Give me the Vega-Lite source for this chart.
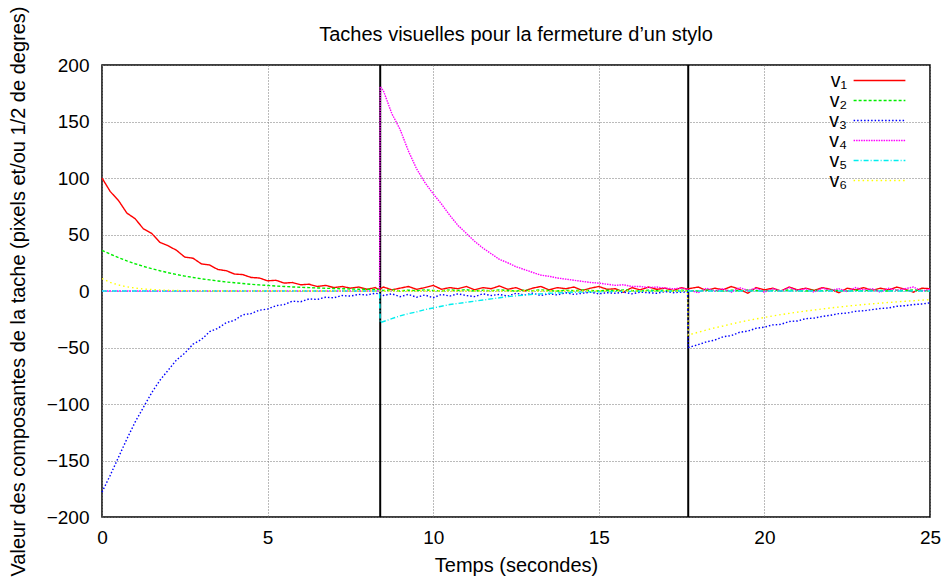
{
  "$schema": "https://vega.github.io/schema/vega-lite/v6.json",
  "width": 828,
  "height": 452,
  "autosize": {"type": "none"},
  "padding": {"left": 102, "top": 65, "right": 14, "bottom": 64},
  "background": "white",
  "config": {
    "view": {"stroke": "black", "strokeWidth": 1.5},
    "font": "Liberation Sans"
  },
  "title": {"text": "Taches visuelles pour la fermeture d’un stylo", "fontSize": 20, "font": "Liberation Sans", "fontWeight": "normal", "color": "black", "offset": 0, "dy": 39, "anchor": "middle"},
  "layer": [
    {
      "data": {"values": [{"t": 8.4}, {"t": 17.7}]},
      "mark": {"type": "rule", "color": "black", "strokeWidth": 2},
      "encoding": {
        "x": {"field": "t", "type": "quantitative", "title": "Temps (secondes)", "scale": {"domain": [0, 25], "nice": false}}
      }
    },
    {
      "data": {"values": [
        {"t":0,"v1":100,"v2":36,"v3":-178,"v4":0,"v5":0,"v6":11},
        {"t":0.25,"v1":88,"v2":32.6,"v3":-163,"v4":0,"v5":0,"v6":7.6},
        {"t":0.5,"v1":80,"v2":29.5,"v3":-147,"v4":0,"v5":0,"v6":5.3},
        {"t":0.75,"v1":69,"v2":26.7,"v3":-131,"v4":0,"v5":0,"v6":3.7},
        {"t":1,"v1":64,"v2":24.1,"v3":-116,"v4":0,"v5":0,"v6":2.6},
        {"t":1.25,"v1":55,"v2":21.8,"v3":-103,"v4":0,"v5":0,"v6":1.8},
        {"t":1.5,"v1":51,"v2":19.8,"v3":-90,"v4":0,"v5":0,"v6":1.3},
        {"t":1.75,"v1":43,"v2":17.9,"v3":-79,"v4":0,"v5":0,"v6":0.9},
        {"t":2,"v1":40,"v2":16.2,"v3":-70,"v4":0,"v5":0,"v6":0.6},
        {"t":2.25,"v1":36,"v2":14.6,"v3":-61,"v4":0,"v5":0,"v6":0.4},
        {"t":2.5,"v1":30,"v2":13.2,"v3":-55,"v4":0,"v5":0,"v6":0.3},
        {"t":2.75,"v1":29,"v2":12,"v3":-47,"v4":0,"v5":0,"v6":0.2},
        {"t":3,"v1":24,"v2":10.8,"v3":-43,"v4":0,"v5":0,"v6":0.1},
        {"t":3.25,"v1":23,"v2":9.8,"v3":-36,"v4":0,"v5":0,"v6":0},
        {"t":3.5,"v1":19,"v2":8.9,"v3":-33,"v4":0,"v5":0,"v6":0},
        {"t":3.75,"v1":18,"v2":8,"v3":-28,"v4":0,"v5":0,"v6":0},
        {"t":4,"v1":15,"v2":7.3,"v3":-26,"v4":0,"v5":0,"v6":0},
        {"t":4.25,"v1":14.5,"v2":6.6,"v3":-21,"v4":0,"v5":0,"v6":0},
        {"t":4.5,"v1":12,"v2":5.9,"v3":-20,"v4":0,"v5":0,"v6":0},
        {"t":4.75,"v1":11.5,"v2":5.4,"v3":-17,"v4":0,"v5":0,"v6":0},
        {"t":5,"v1":9,"v2":4.9,"v3":-16,"v4":0,"v5":0,"v6":0},
        {"t":5.25,"v1":9.5,"v2":4.4,"v3":-13,"v4":0,"v5":0,"v6":0},
        {"t":5.5,"v1":7,"v2":4,"v3":-12,"v4":0,"v5":0,"v6":0},
        {"t":5.75,"v1":7.5,"v2":3.6,"v3":-9,"v4":0,"v5":0,"v6":0},
        {"t":6,"v1":5.5,"v2":3.3,"v3":-9.5,"v4":0,"v5":0,"v6":0},
        {"t":6.25,"v1":6,"v2":3,"v3":-7,"v4":0,"v5":0,"v6":0},
        {"t":6.5,"v1":4,"v2":2.7,"v3":-7.5,"v4":0,"v5":0,"v6":0},
        {"t":6.75,"v1":5,"v2":2.4,"v3":-5.5,"v4":0,"v5":0,"v6":0},
        {"t":7,"v1":3,"v2":2.2,"v3":-6,"v4":0,"v5":0,"v6":0},
        {"t":7.25,"v1":4,"v2":2,"v3":-4,"v4":0,"v5":0,"v6":0},
        {"t":7.5,"v1":2.5,"v2":1.8,"v3":-4.5,"v4":0,"v5":0,"v6":0},
        {"t":7.75,"v1":3.5,"v2":1.6,"v3":-3,"v4":0,"v5":0,"v6":0},
        {"t":8,"v1":1.5,"v2":1.5,"v3":-3.5,"v4":0,"v5":0,"v6":0},
        {"t":8.25,"v1":3,"v2":1.3,"v3":-2,"v4":0,"v5":0,"v6":0},
        {"t":8.38,"v1":1,"v2":1.3,"v3":-2.5,"v4":0,"v5":0,"v6":0},
        {"t":8.4,"v1":2,"v2":1.2,"v3":-3,"v4":181,"v5":-28,"v6":0},
        {"t":8.5,"v1":3.5,"v2":0.5,"v3":-4,"v4":177,"v5":-27,"v6":0},
        {"t":8.75,"v1":1,"v2":1,"v3":-2.5,"v4":157,"v5":-24.5,"v6":0},
        {"t":9,"v1":2.5,"v2":0,"v3":-5,"v4":143,"v5":-22,"v6":0},
        {"t":9.25,"v1":4,"v2":0.8,"v3":-3,"v4":124,"v5":-20,"v6":0},
        {"t":9.5,"v1":1.5,"v2":0.3,"v3":-5.5,"v4":108,"v5":-18.5,"v6":0},
        {"t":9.75,"v1":3,"v2":1,"v3":-3.5,"v4":96,"v5":-16.5,"v6":0},
        {"t":10,"v1":5,"v2":0.5,"v3":-6,"v4":86,"v5":-15,"v6":0},
        {"t":10.25,"v1":1.5,"v2":0,"v3":-3,"v4":77,"v5":-13.5,"v6":0},
        {"t":10.5,"v1":3,"v2":1,"v3":-4.5,"v4":67,"v5":-12,"v6":0},
        {"t":10.75,"v1":2,"v2":0.5,"v3":-2.5,"v4":58,"v5":-11,"v6":0},
        {"t":11,"v1":4,"v2":1.2,"v3":-4,"v4":51,"v5":-10,"v6":0},
        {"t":11.25,"v1":1,"v2":0,"v3":-5,"v4":44,"v5":-9,"v6":0},
        {"t":11.5,"v1":3,"v2":0.7,"v3":-2.5,"v4":38,"v5":-8,"v6":0},
        {"t":11.75,"v1":2,"v2":0.2,"v3":-4,"v4":33,"v5":-7,"v6":0},
        {"t":12,"v1":4.5,"v2":1,"v3":-3,"v4":28,"v5":-6,"v6":0},
        {"t":12.25,"v1":1.5,"v2":0.5,"v3":-4.5,"v4":25,"v5":-5,"v6":0},
        {"t":12.5,"v1":3,"v2":0,"v3":-2,"v4":21.5,"v5":-4.3,"v6":0},
        {"t":12.75,"v1":0,"v2":0.8,"v3":-3.5,"v4":19,"v5":-3.6,"v6":0},
        {"t":13,"v1":2.5,"v2":0.3,"v3":-2,"v4":16.5,"v5":-3,"v6":0},
        {"t":13.25,"v1":4,"v2":1,"v3":-4,"v4":14,"v5":-2.5,"v6":0},
        {"t":13.5,"v1":1,"v2":0.4,"v3":-2.5,"v4":13,"v5":-2,"v6":0},
        {"t":13.75,"v1":3,"v2":0,"v3":-3.5,"v4":11.5,"v5":-1.7,"v6":0},
        {"t":14,"v1":2,"v2":0.8,"v3":-1.5,"v4":10.5,"v5":-1.4,"v6":0},
        {"t":14.25,"v1":3.5,"v2":0.2,"v3":-3,"v4":9.5,"v5":-1.1,"v6":0},
        {"t":14.5,"v1":0.5,"v2":1,"v3":-2,"v4":8.5,"v5":-0.9,"v6":0},
        {"t":14.75,"v1":2.5,"v2":0.5,"v3":-1,"v4":7.5,"v5":-0.7,"v6":0},
        {"t":15,"v1":4,"v2":0,"v3":-2.5,"v4":7,"v5":-0.6,"v6":0},
        {"t":15.25,"v1":1.5,"v2":0.7,"v3":-1.5,"v4":6,"v5":-0.5,"v6":0},
        {"t":15.5,"v1":2,"v2":0.3,"v3":-2,"v4":5,"v5":-0.4,"v6":0},
        {"t":15.75,"v1":-1,"v2":1,"v3":-1,"v4":5.5,"v5":-0.3,"v6":0},
        {"t":16,"v1":3,"v2":0.4,"v3":-2.5,"v4":4,"v5":-0.3,"v6":0},
        {"t":16.25,"v1":1,"v2":0,"v3":-1,"v4":4,"v5":-0.2,"v6":0},
        {"t":16.5,"v1":3.5,"v2":0.8,"v3":-1.5,"v4":3,"v5":-0.2,"v6":0},
        {"t":16.75,"v1":1.5,"v2":0.2,"v3":-2,"v4":3.5,"v5":-0.1,"v6":0},
        {"t":17,"v1":2.5,"v2":0.6,"v3":-0.5,"v4":2.5,"v5":-0.1,"v6":0},
        {"t":17.25,"v1":0.5,"v2":0,"v3":-1.5,"v4":2,"v5":0,"v6":0},
        {"t":17.5,"v1":3,"v2":0.8,"v3":-1,"v4":2.5,"v5":0,"v6":0},
        {"t":17.68,"v1":1.5,"v2":0.3,"v3":-1,"v4":1.5,"v5":0,"v6":0},
        {"t":17.7,"v1":2,"v2":0.5,"v3":-50,"v4":1,"v5":0,"v6":-39},
        {"t":18,"v1":3.5,"v2":0,"v3":-47.5,"v4":-1.5,"v5":0,"v6":-36.5},
        {"t":18.25,"v1":0.5,"v2":1,"v3":-45,"v4":2.5,"v5":0,"v6":-34.5},
        {"t":18.5,"v1":2.5,"v2":0.4,"v3":-43.5,"v4":0,"v5":0,"v6":-32.6},
        {"t":18.75,"v1":1,"v2":0,"v3":-40.5,"v4":2,"v5":0,"v6":-31},
        {"t":19,"v1":4,"v2":0.8,"v3":-39.5,"v4":-1,"v5":0,"v6":-29.2},
        {"t":19.25,"v1":1.5,"v2":0.2,"v3":-36.5,"v4":3,"v5":0,"v6":-27.6},
        {"t":19.5,"v1":-2,"v2":1,"v3":-35.5,"v4":0.5,"v5":0,"v6":-26.1},
        {"t":19.75,"v1":3,"v2":0.5,"v3":-33,"v4":2.5,"v5":0,"v6":-24.7},
        {"t":20,"v1":1,"v2":0,"v3":-32,"v4":-1,"v5":0,"v6":-23.4},
        {"t":20.25,"v1":2.5,"v2":0.7,"v3":-30,"v4":2,"v5":0,"v6":-22.1},
        {"t":20.5,"v1":0,"v2":0.3,"v3":-29.5,"v4":0,"v5":0,"v6":-20.9},
        {"t":20.75,"v1":3.5,"v2":1,"v3":-27,"v4":3,"v5":0,"v6":-19.8},
        {"t":21,"v1":1,"v2":0.4,"v3":-26.5,"v4":0.5,"v5":0,"v6":-18.7},
        {"t":21.25,"v1":2.5,"v2":0,"v3":-24.5,"v4":2,"v5":0,"v6":-17.7},
        {"t":21.5,"v1":0.5,"v2":0.8,"v3":-24,"v4":-1,"v5":0,"v6":-16.8},
        {"t":21.75,"v1":3,"v2":0.3,"v3":-22.5,"v4":2.5,"v5":0,"v6":-15.9},
        {"t":22,"v1":1.5,"v2":1,"v3":-21.5,"v4":0.5,"v5":0,"v6":-15},
        {"t":22.25,"v1":-1.5,"v2":0.5,"v3":-20,"v4":2,"v5":0,"v6":-14.2},
        {"t":22.5,"v1":2.5,"v2":0,"v3":-19.5,"v4":-0.5,"v5":0,"v6":-13.4},
        {"t":22.75,"v1":1,"v2":0.7,"v3":-18,"v4":3,"v5":0,"v6":-12.7},
        {"t":23,"v1":3,"v2":0.2,"v3":-17.5,"v4":1,"v5":0,"v6":-12},
        {"t":23.25,"v1":0.5,"v2":0.9,"v3":-16.5,"v4":2,"v5":0,"v6":-11.4},
        {"t":23.5,"v1":2.5,"v2":0.4,"v3":-15.5,"v4":-1,"v5":0,"v6":-10.7},
        {"t":23.75,"v1":1,"v2":0,"v3":-15,"v4":2.5,"v5":0,"v6":-10.2},
        {"t":24,"v1":3.5,"v2":0.8,"v3":-13.5,"v4":0.5,"v5":0,"v6":-9.6},
        {"t":24.25,"v1":1.5,"v2":0.3,"v3":-13,"v4":2,"v5":0,"v6":-9.1},
        {"t":24.5,"v1":-1,"v2":1,"v3":-12,"v4":3.5,"v5":0,"v6":-8.6},
        {"t":24.75,"v1":2.5,"v2":0.5,"v3":-11.5,"v4":0,"v5":0,"v6":-8.1},
        {"t":25,"v1":2,"v2":0,"v3":-10.5,"v4":1.5,"v5":0,"v6":-7.7}
      ]},
      "transform": [{"fold": ["v1", "v2", "v3", "v4", "v5", "v6"], "as": ["series", "value"]}],
      "mark": {"type": "line", "strokeWidth": 1.4},
      "encoding": {
        "x": {
          "field": "t", "type": "quantitative", "title": "Temps (secondes)",
          "scale": {"domain": [0, 25], "nice": false},
          "axis": {"values": [0, 5, 10, 15, 20, 25], "grid": true, "gridDash": [1, 2], "gridColor": "#777", "gridWidth": 1, "ticks": false, "domain": false, "labelFlush": false, "labelOverlap": false, "labelFontSize": 19, "labelFont": "Liberation Sans", "labelColor": "black", "labelPadding": 11, "titleFontSize": 20, "titleFont": "Liberation Sans", "titleFontWeight": "normal", "titleColor": "black", "titlePadding": 8}
        },
        "y": {
          "field": "value", "type": "quantitative", "title": "Valeur des composantes de la tache (pixels et/ou 1/2 de degres)",
          "scale": {"domain": [-200, 200], "nice": false},
          "axis": {"values": [-200, -150, -100, -50, 0, 50, 100, 150, 200], "grid": true, "gridDash": [1, 2], "gridColor": "#777", "gridWidth": 1, "ticks": false, "domain": false, "labelFlush": false, "labelOverlap": false, "labelFontSize": 19, "labelFont": "Liberation Sans", "labelColor": "black", "labelPadding": 13, "titleFontSize": 20, "titleFont": "Liberation Sans", "titleFontWeight": "normal", "titleColor": "black", "titlePadding": 18}
        },
        "color": {
          "field": "series", "type": "nominal",
          "scale": {"domain": ["v1", "v2", "v3", "v4", "v5", "v6"], "range": ["#ff0000", "#00ee00", "#0000ff", "#ff00ff", "#00eeee", "#ffff00"]},
          "legend": {"title": null, "orient": "none", "legendX": 767, "legendY": 5, "symbolType": "M-2.8,0H2.8", "symbolSize": 342, "symbolStrokeWidth": 1.6, "symbolFillColor": "transparent", "labelFontSize": 19.5, "labelFont": "Liberation Sans", "labelColor": "black", "labelAlign": "right", "labelOffset": -43, "rowPadding": 0, "labelExpr": "datum.label == 'v1' ? 'v₁' : datum.label == 'v2' ? 'v₂' : datum.label == 'v3' ? 'v₃' : datum.label == 'v4' ? 'v₄' : datum.label == 'v5' ? 'v₅' : 'v₆'"}
        },
        "strokeDash": {
          "field": "series", "type": "nominal",
          "scale": {"domain": ["v1", "v2", "v3", "v4", "v5", "v6"], "range": [[1, 0], [3, 2], [1.5, 2], [1.5, 1], [5, 2, 1, 2], [1.5, 3]]},
          "legend": {"title": null, "orient": "none", "legendX": 767, "legendY": 5, "symbolType": "M-2.8,0H2.8", "symbolSize": 342, "symbolStrokeWidth": 1.6, "symbolFillColor": "transparent", "labelFontSize": 19.5, "labelFont": "Liberation Sans", "labelColor": "black", "labelAlign": "right", "labelOffset": -43, "rowPadding": 0, "labelExpr": "datum.label == 'v1' ? 'v₁' : datum.label == 'v2' ? 'v₂' : datum.label == 'v3' ? 'v₃' : datum.label == 'v4' ? 'v₄' : datum.label == 'v5' ? 'v₅' : 'v₆'"}
        }
      }
    }
  ]
}
